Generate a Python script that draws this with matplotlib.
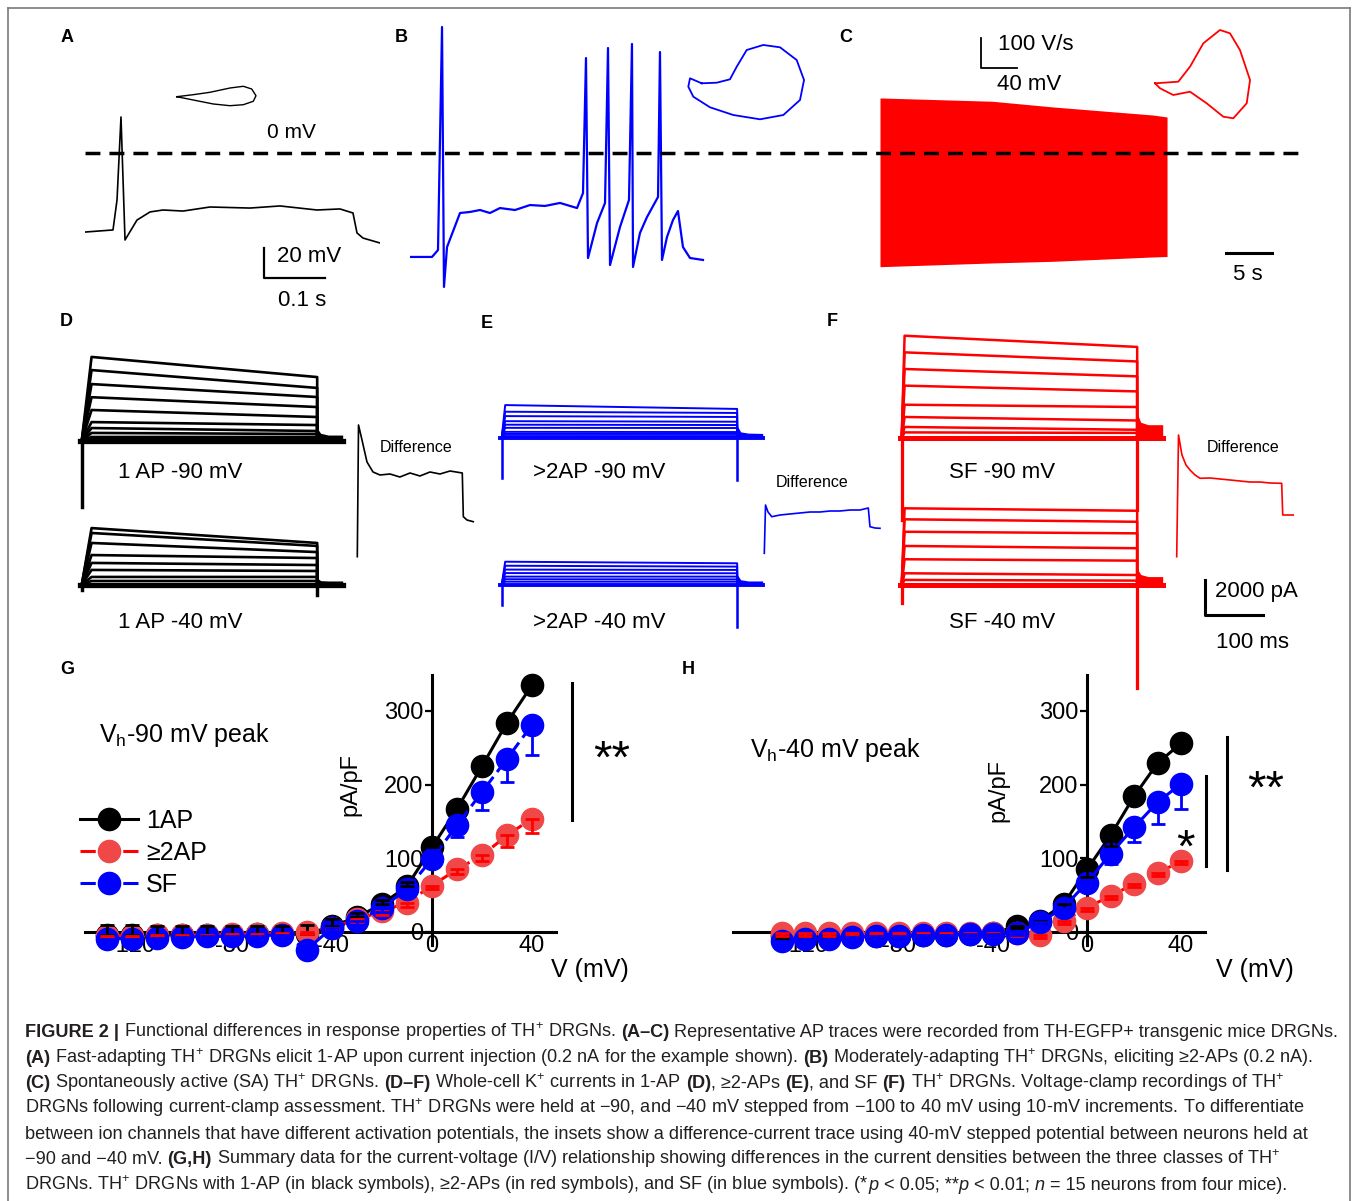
import matplotlib
matplotlib.use("Agg")
import matplotlib.pyplot as plt
from matplotlib.lines import Line2D

plt.rcParams['font.family'] = ['Liberation Sans', 'DejaVu Sans']
plt.rcParams['mathtext.fontset'] = 'custom'
plt.rcParams['mathtext.rm'] = 'Liberation Sans'
plt.rcParams['mathtext.it'] = 'Liberation Sans:italic'
plt.rcParams['mathtext.bf'] = 'Liberation Sans:bold'
plt.rcParams['axes.unicode_minus'] = False

# ======================= DATA =======================
# Panel A current-clamp trace (time ms, membrane potential mV)
A_T = [0, 45.9, 52.5, 59.0, 65.6, 85.2, 106.6, 127.9, 160.7, 204.9, 270.5, 319.7, 380.3, 418.0, 439.3, 445.9, 455.7, 483.6]
A_V = [-52.7, -51.3, -31.3, 24.0, -58.0, -44.7, -39.3, -38.0, -38.7, -36.0, -36.7, -35.3, -38.0, -37.3, -40.0, -53.3, -56.7, -60.0]
# Panel B trace
B_T = [0, 36.1, 45.9, 52.5, 55.7, 60.7, 82.0, 98.4, 114.8, 131.1, 147.5, 172.1, 196.7, 221.3, 245.9, 273.8,
       283.6, 288.5, 291.8, 306.6, 319.7, 324.6, 327.9, 344.3, 359.0, 363.9, 365.6, 377.0, 388.5, 406.6,
       409.8, 413.1, 421.3, 431.1, 439.3, 447.5, 459.0, 480.3]
B_V = [-69.3, -69.3, -64.7, 84.0, -89.3, -62.7, -40.0, -39.3, -38.0, -40.0, -36.7, -38.0, -34.7, -35.3, -33.3, -36.7,
       -26.7, 63.3, -70.0, -46.7, -33.3, 70.0, -74.7, -49.3, -31.3, 72.7, -76.0, -53.3, -42.7, -29.3,
       67.3, -71.3, -56.0, -44.7, -38.7, -62.7, -70.0, -71.3]
# Panel C spontaneous firing envelope (time s, mV)
C_T = [0, 12.2, 18.8, 29.7, 31.2]
C_TOP = [36.7, 34.5, 30.7, 25.3, 24.0]
C_BOT = [-75.8, -73.3, -72.2, -69.3, -69.0]
# Phase plots (mV, V/s)
PA_MV = [-55, -36.6, -18, 4.2, 19, 28.3, 33.1, 30.1, 19, 4.2, -14.3, -32.8, -47.7, -55]
PA_VS = [0, 6.7, 14.7, 29, 34.7, 25.7, 3.3, -15.3, -26.7, -30, -24.3, -13.3, -4.3, 0]
PB_MV = [-40.1, -53.1, -55, -49.4, -30.9, -5, 24.7, 50.6, 69.1, 73.6, 65.4, 46.9, 28.3, 9.9, -1.2, -8.7, -23.4, -40.1]
PB_VS = [-1, 15.7, -12.3, -45.7, -81, -106.7, -121, -106.7, -56.7, 10, 76.7, 119, 126.7, 110, 54.3, 12.3, 1, -1]
PC_MV = [-55, -29.1, -16.1, -1.3, 17.2, 28.3, 39.4, 50.6, 46.9, 32, 20.9, 2.4, -16.1, -34.7, -49.4, -55]
PC_VS = [2.3, 7.7, 57.7, 135.7, 180, 169, 113.3, 13.3, -64.3, -114.3, -109, -64.3, -25.7, -36.7, -14.3, 2.3]

# Panels D-F: K+ current families (pA), one value per voltage step
D90_PEAK = [4800, 4050, 3250, 2500, 1770, 1080, 740, 460, 230, 110]
D90_END = [3650, 3030, 2510, 1940, 1370, 910, 570, 400, 230, 110]
D40_PEAK = [3250, 2970, 2400, 1710, 1260, 860, 460, 230]
D40_END = [2400, 2230, 1880, 1540, 1140, 800, 460, 230]
E90_PEAK = [1880, 1500, 1250, 960, 760, 580, 350, 230, 110]
E90_END = [1660, 1430, 1200, 930, 740, 570, 340, 230, 110]
E40_PEAK = [1330, 1100, 880, 680, 480, 330, 190]
E40_END = [1240, 1050, 860, 670, 480, 320, 190]
F90_PEAK = [5840, 4890, 3940, 2990, 1900, 1200, 630, 320]
F90_END = [5200, 4370, 3520, 2660, 1770, 1000, 470, 290]
F40_PEAK = [4380, 3750, 3040, 2230, 1470, 670, 290]
F40_END = [4240, 3610, 2950, 2100, 1390, 570, 250]
# capacitive transients (on, off) in pA
D90_CAP = [-3770, 0]
D40_CAP = [-290, -570]
E90_CAP = [-2280, -2400]
E40_CAP = [-1140, -2400]
F90_CAP = [-4680, -4110]
F40_CAP = [-1030, -5880]
# tail currents after the step
TAIL_T = [406, 412, 425, 450]
D90_TAIL = [730, 440, 340, 340]
D40_TAIL = [400, 250, 230, 230]
E90_TAIL = [700, 350, 280, 260]
E40_TAIL = [600, 300, 230, 230]
F90_TAIL = [1430, 900, 760, 760]
F40_TAIL = [950, 600, 480, 480]
# Difference traces (ms, pA)
DD_T = [0, 2.1, 8.1, 16.7, 27.1, 39.1, 56.3, 73.4, 90.9, 108, 125.3, 142.6, 159.8, 181, 182.8, 189.1, 200]
DD_I = [-1999, 5522, 4665, 3409, 2838, 2667, 2724, 2552, 2781, 2610, 2838, 2724, 2895, 2781, 286, 97, 0]
ED_T = [0, 2.1, 6.4, 12.8, 27.1, 44.3, 61.6, 78.8, 96.1, 113.3, 130.5, 147.8, 165, 179.3, 182.2, 190.9, 199.5]
ED_I = [-1428, 1330, 931, 662, 759, 817, 874, 931, 931, 988, 988, 1045, 1045, 1159, 91, 17, 0]
FD_T = [0, 3.1, 9.1, 16, 22.9, 31.6, 40.2, 57.4, 74.7, 91.9, 109.1, 126.4, 143.6, 160.9, 181, 182.8, 201]
FD_I = [-2381, 4568, 3426, 2855, 2570, 2284, 2096, 2113, 2056, 1999, 1941, 1884, 1884, 1827, 1810, 0, 0]

# Panels G/H: I-V relationship (mV, pA/pF)
V_STEPS = [-130, -120, -110, -100, -90, -80, -70, -60, -50, -40, -30, -20, -10, 0, 10, 20, 30, 40]
G_1AP = [-4, -4, -4, -4, -4, -4, -3, -3, -3, 8, 20, 38, 62, 115, 167, 225, 284, 335]
G_1AP_ERR = [13, 13, 12, 12, 12, 12, 11, 11, 13, 10, 6, 6, 6, 6, 6, 6, 6, 6]
G_2AP = [-5, -5, -4, -4, -4, -3, -3, -2, 0, 6, 17, 28, 40, 63, 85, 104, 131, 154]
G_2AP_ERR = [2, 2, 2, 2, 2, 2, 2, 2, 3, 3, 4, 5, 6, 5, 6, 8, 16, 19]
G_SF = [-9, -9, -8, -7, -6, -6, -5, -4, -24, 6, 15, 33, 58, 99, 145, 190, 235, 281]
G_SF_ERR = [2, 2, 2, 2, 2, 2, 2, 2, 3, 4, 5, 6, 6, 6, 16, 25, 31, 41]
H_1AP = [-6, -6, -6, -5, -5, -5, -4, -4, -3, -2, 8, 15, 38, 85, 131, 184, 229, 256]
H_1AP_ERR = [3, 3, 3, 3, 3, 3, 3, 3, 3, 3, 3, 4, 5, 11, 14, 5, 5, 5]
H_2AP = [-2, -2, -2, -2, -2, -2, -2, -2, -2, -2, -2, -4, 15, 33, 49, 65, 80, 96]
H_2AP_ERR = [4, 4, 4, 4, 4, 4, 4, 4, 4, 4, 4, 4, 4, 4, 4, 4, 4, 4]
H_SF = [-12, -10, -9, -7, -6, -5, -4, -4, -3, -3, -1, 13, 33, 67, 106, 142, 176, 201]
H_SF_ERR = [3, 3, 3, 3, 3, 3, 3, 3, 3, 3, 3, 4, 5, 6, 14, 20, 29, 34]
NO_ERR = [0] * 18
SERIES_LABELS = ['1AP', '\u22652AP', 'SF']
X_TICKS = [-120, -80, -40, 0, 40]
Y_TICKS = [0, 100, 200, 300]

# ======================= LAYOUT =======================
W, H = 1357, 1201
fig = plt.figure(figsize=(W / 100, H / 100), dpi=100)

BLACK = '#000000'
BLUE = '#0000FF'
RED = '#FF0000'
RED_M = '#F04848'


def add_ax(x0, y0, x1, y1, xlim, ylim, z=2):
    ax = fig.add_axes([x0 / W, 1 - y1 / H, (x1 - x0) / W, (y1 - y0) / H], zorder=z)
    ax.set_xlim(*xlim)
    ax.set_ylim(*ylim)
    ax.set_axis_off()
    return ax


def ftext(x, y, s, **kw):
    kw.setdefault('va', 'center')
    kw.setdefault('ha', 'left')
    return fig.text(x / W, 1 - y / H, s, **kw)


# ---- top row (A-C) ----
ZERO_PX, PX_PER_MV, PX_PER_MS, PX_PER_S = 153, 1.5, 0.61, 9.2
ROW_Y0, ROW_Y1 = 20, 300
YL_TOP = ((ZERO_PX - ROW_Y1) / PX_PER_MV, (ZERO_PX - ROW_Y0) / PX_PER_MV)

axA = add_ax(85, ROW_Y0, 380, ROW_Y1, (0, (380 - 85) / PX_PER_MS), YL_TOP)
axA.plot(A_T, A_V, color=BLACK, lw=1.2)
sbt, sbv = 293.4, -83.3
axA.plot([sbt, sbt, sbt + 100], [sbv + 20, sbv, sbv], color=BLACK, lw=1.6, clip_on=False)

axB = add_ax(410, ROW_Y0, 705, ROW_Y1, (0, (705 - 410) / PX_PER_MS), YL_TOP)
axB.plot(B_T, B_V, color=BLUE, lw=1.6)

axC = add_ax(880, ROW_Y0, 1300, ROW_Y1, (0, (1300 - 880) / PX_PER_S), YL_TOP)
axC.fill_between(C_T, C_BOT, C_TOP, color=RED, lw=0)
axC.plot([37.6, 37.6 + 5], [-66.7, -66.7], color=BLACK, lw=2.2)

axRow = add_ax(85, ROW_Y0, 1300, ROW_Y1, (0, 1), YL_TOP, z=5)
axRow.axhline(0, color=BLACK, lw=2.5, ls=(0, (4.3, 2.6)))

PH_MV_PX, PH_VS_PX, PH_REF = 0.9, 0.3, -55


def phase_ax(x0, y0, x1, y1, xref, yref):
    return add_ax(x0, y0, x1, y1,
                  (PH_REF + (x0 - xref) / PH_MV_PX, PH_REF + (x1 - xref) / PH_MV_PX),
                  ((yref - y1) / PH_VS_PX, (yref - y0) / PH_VS_PX), z=3)


pa = phase_ax(170, 79, 260, 114, 176.7, 96.7)
pa.plot(PA_MV, PA_VS, color=BLACK, lw=1.0)
pb = phase_ax(680, 40, 810, 125, 688.3, 83)
pb.plot(PB_MV, PB_VS, color=BLUE, lw=1.3)
pc = phase_ax(975, 20, 1260, 125, 1155, 84)
pc.plot(PC_MV, PC_VS, color=RED, lw=1.3)
pc.plot([-248.3, -248.3, -248.3 + 40], [53.3 + 100, 53.3, 53.3], color=BLACK, lw=1.3)

ftext(291, 133, '0 mV', fontsize=15, ha='center')
ftext(277, 256, '20 mV', fontsize=16)
ftext(302, 300, '0.1 s', fontsize=16, ha='center')
ftext(998, 45, '100 V/s', fontsize=16)
ftext(997, 85, '40 mV', fontsize=16)
ftext(1248, 275, '5 s', fontsize=16, ha='center')

# ---- D-F current families ----
PX_PER_MS2, PA_PER_PX = 0.58, 57.1
STEP_END, PRE, TAIL_END = 406, -3, 450


def fam_ax(x0, y0, x1, y1, t0px, basepx):
    return add_ax(x0, y0, x1, y1,
                  ((x0 - t0px) / PX_PER_MS2, (x1 - t0px) / PX_PER_MS2),
                  ((basepx - y1) * PA_PER_PX, (basepx - y0) * PA_PER_PX))


def draw_family(ax, peaks, ends, cap, tail, tpk, color, lw):
    for p, e in zip(peaks, ends):
        ax.plot([0, tpk, STEP_END, STEP_END], [0, p, e, 0], color=color, lw=lw)
    ax.plot([PRE, TAIL_END], [0, 0], color=color, lw=lw * 2.0)
    ax.plot([0, 0], [0, cap[0]], color=color, lw=lw * 1.3)
    ax.plot([STEP_END, STEP_END], [0, cap[1]], color=color, lw=lw * 1.3)
    ax.fill_between(TAIL_T, 0, tail, color=color, lw=0)


axD1 = fam_ax(70, 340, 350, 515, 81.7, 441)
draw_family(axD1, D90_PEAK, D90_END, D90_CAP, D90_TAIL, 17, BLACK, 1.9)
axD2 = fam_ax(70, 515, 350, 600, 81.7, 585)
draw_family(axD2, D40_PEAK, D40_END, D40_CAP, D40_TAIL, 17, BLACK, 1.9)
axE1 = fam_ax(490, 395, 770, 490, 501.7, 438)
draw_family(axE1, E90_PEAK, E90_END, E90_CAP, E90_TAIL, 6, BLUE, 1.4)
axE2 = fam_ax(490, 540, 770, 635, 501.7, 585)
draw_family(axE2, E40_PEAK, E40_END, E40_CAP, E40_TAIL, 6, BLUE, 1.4)
axF1 = fam_ax(890, 325, 1170, 530, 901.7, 438)
draw_family(axF1, F90_PEAK, F90_END, F90_CAP, F90_TAIL, 5, RED, 1.8)
axF2 = fam_ax(890, 495, 1170, 695, 901.7, 585)
draw_family(axF2, F40_PEAK, F40_END, F40_CAP, F40_TAIL, 5, RED, 1.8)

dd = fam_ax(350, 415, 480, 565, 357.3, 521.7)
dd.plot(DD_T, DD_I, color=BLACK, lw=1.2)
ed = fam_ax(755, 495, 885, 560, 764.3, 528.3)
ed.plot(ED_T, ED_I, color=BLUE, lw=1.2)
fd = fam_ax(1170, 425, 1300, 565, 1176.7, 515)
fd.plot(FD_T, FD_I, color=RED, lw=1.2)

sb = fam_ax(1195, 560, 1300, 625, 1205, 615)
sb.plot([0, 0, 100], [2000, 0, 0], color=BLACK, lw=2.2, clip_on=False)

ftext(118, 472, '1 AP -90 mV', fontsize=16)
ftext(118, 622, '1 AP -40 mV', fontsize=16)
ftext(380, 447, 'Difference', fontsize=11.5)
ftext(533, 472, '>2AP -90 mV', fontsize=16)
ftext(533, 622, '>2AP -40 mV', fontsize=16)
ftext(776, 482, 'Difference', fontsize=11.5)
ftext(949, 472, 'SF -90 mV', fontsize=16)
ftext(949, 622, 'SF -40 mV', fontsize=16)
ftext(1207, 447, 'Difference', fontsize=11.5)
ftext(1215, 591, '2000 pA', fontsize=16)
ftext(1216, 643, '100 ms', fontsize=16)

# ---- G/H I-V plots ----
IV_Y0, IV_Y1, IV_ZERO, IV_PX = 675, 945, 932, 0.737


def iv_ax(x0, x1, yaxis_px, px_per_mv):
    ax = fig.add_axes([x0 / W, 1 - IV_Y1 / H, (x1 - x0) / W, (IV_Y1 - IV_Y0) / H], zorder=4)
    ax.set_xlim((x0 - yaxis_px) / px_per_mv, (x1 - yaxis_px) / px_per_mv)
    ax.set_ylim((IV_ZERO - IV_Y1) / IV_PX, (IV_ZERO - IV_Y0) / IV_PX)
    ax.patch.set_alpha(0)
    ax.spines['top'].set_visible(False)
    ax.spines['right'].set_visible(False)
    ax.spines['left'].set_position(('data', 0))
    ax.spines['bottom'].set_position(('data', 0))
    ax.spines['left'].set_linewidth(2.2)
    ax.spines['bottom'].set_linewidth(2.2)
    ax.set_xticks(X_TICKS)
    ax.set_yticks(Y_TICKS)
    ax.tick_params(axis='x', length=0, pad=2, labelsize=17)
    ax.tick_params(axis='y', length=5, width=1.6, direction='out', pad=1, labelsize=17)
    return ax


def series(ax, y, mcolor, lcolor, ls):
    ax.plot(V_STEPS, y, color=lcolor, ls=ls, lw=2.2, marker='o', ms=16,
            mfc=mcolor, mec=mcolor, zorder=3, clip_on=False)


def errs(ax, y, lo, hi, color):
    ax.errorbar(V_STEPS, y, yerr=[lo, hi], fmt='none', ecolor=color, elinewidth=2.0,
                capsize=5, capthick=2.0, zorder=5, clip_on=False)


axG = iv_ax(85, 556, 432, 2.5)
series(axG, G_1AP, BLACK, BLACK, '-')
series(axG, G_2AP, RED_M, RED, (0, (5, 2)))
series(axG, G_SF, BLUE, BLUE, (0, (5, 2)))
errs(axG, G_1AP, NO_ERR, G_1AP_ERR, BLACK)
errs(axG, G_2AP, G_2AP_ERR, NO_ERR, RED)
errs(axG, G_SF, G_SF_ERR, NO_ERR, BLUE)
axG.plot([56, 56], [152, 338], color=BLACK, lw=2.2, clip_on=False)
axG.text(72, 233, '**', fontsize=34, ha='center', va='center', clip_on=False)

axH = iv_ax(733, 1205, 1087, 2.35)
series(axH, H_1AP, BLACK, BLACK, '-')
series(axH, H_2AP, RED_M, RED, (0, (3, 2)))
series(axH, H_SF, BLUE, BLUE, '-')
errs(axH, H_1AP, H_1AP_ERR, NO_ERR, BLACK)
errs(axH, H_2AP, H_2AP_ERR, NO_ERR, RED)
errs(axH, H_SF, H_SF_ERR, NO_ERR, BLUE)
axH.plot([59.6, 59.6], [84.1, 264.6], color=BLACK, lw=2.2, clip_on=False)
axH.plot([50.6, 50.6], [89.6, 211.7], color=BLACK, lw=2.2, clip_on=False)
axH.text(76.2, 192, '**', fontsize=34, ha='center', va='center', clip_on=False)
axH.text(42.1, 111, '*', fontsize=34, ha='center', va='center', clip_on=False)

handles = [Line2D([], [], color=BLACK, ls='-', lw=2.2, marker='o', ms=16, mfc=BLACK, mec=BLACK),
           Line2D([], [], color=RED, ls=(0, (5, 2)), lw=2.2, marker='o', ms=16, mfc=RED_M, mec=RED_M),
           Line2D([], [], color=BLUE, ls=(0, (5, 2)), lw=2.2, marker='o', ms=16, mfc=BLUE, mec=BLUE)]
axG.legend(handles, SERIES_LABELS, loc='upper left', bbox_to_anchor=(80 / W, 1 - 809 / H),
           bbox_transform=fig.transFigure, frameon=False, fontsize=18, handlelength=2.3,
           handletextpad=0.35, labelspacing=0.32, borderpad=0, borderaxespad=0, numpoints=1)

ftext(350, 785, 'pA/pF', fontsize=17, rotation=90, ha='center')
ftext(998, 790, 'pA/pF', fontsize=17, rotation=90, ha='center')
ftext(590, 970, 'V (mV)', fontsize=18, ha='center')
ftext(1255, 970, 'V (mV)', fontsize=18, ha='center')
ftext(99, 735, r'V$_\mathrm{h}$-90 mV peak', fontsize=18)
ftext(750, 750, r'V$_\mathrm{h}$-40 mV peak', fontsize=18)

# panel letters
for lx, ly, L in [(67, 38, 'A'), (401, 38, 'B'), (846, 38, 'C'), (66, 322, 'D'),
                  (487, 324, 'E'), (832, 321, 'F'), (67, 670, 'G'), (688, 670, 'H')]:
    ftext(lx, ly, L, fontsize=13, weight='bold', ha='center')

# border
BC = '#7a7a7a'
for xs, ys in [((8, 1350), (8, 8)), ((8, 8), (8, 1201)), ((1350, 1350), (8, 1201))]:
    fig.add_artist(Line2D([x / W for x in xs], [1 - y / H for y in ys], color=BC, lw=1.2,
                          transform=fig.transFigure))

# ---- caption ----
CAP_SIZE = 13.1
CAP_COLOR = '#231f20'
renderer = fig.canvas.get_renderer()


def twidth(s, weight='normal'):
    t = fig.text(0, 0, s, fontsize=CAP_SIZE, weight=weight)
    w = t.get_window_extent(renderer).width
    t.remove()
    return w


SPACE_W = twidth('x x') - twidth('xx')

CAPTION = [
    [('FIGURE 2 |', 'b'), (' Functional differences in response properties of TH$^{+}$ DRGNs. ', 'r'), ('(A\u2013C)', 'b'),
     (' Representative AP traces were recorded from TH-EGFP+ transgenic mice DRGNs.', 'r')],
    [('(A)', 'b'), (' Fast-adapting TH$^{+}$ DRGNs elicit 1-AP upon current injection (0.2 nA for the example shown). ', 'r'),
     ('(B)', 'b'), (' Moderately-adapting TH$^{+}$ DRGNs, eliciting \u22652-APs (0.2 nA).', 'r')],
    [('(C)', 'b'), (' Spontaneously active (SA) TH$^{+}$ DRGNs. ', 'r'), ('(D\u2013F)', 'b'),
     (' Whole-cell K$^{+}$ currents in 1-AP ', 'r'), ('(D)', 'b'), (', \u22652-APs ', 'r'), ('(E)', 'b'),
     (', and SF ', 'r'), ('(F)', 'b'), (' TH$^{+}$ DRGNs. Voltage-clamp recordings of TH$^{+}$', 'r')],
    [('DRGNs following current-clamp assessment. TH$^{+}$ DRGNs were held at \u221290, and \u221240 mV stepped from \u2212100 to 40 mV using 10-mV increments. To differentiate', 'r')],
    [('between ion channels that have different activation potentials, the insets show a difference-current trace using 40-mV stepped potential between neurons held at', 'r')],
    [('\u221290 and \u221240 mV. ', 'r'), ('(G,H)', 'b'),
     (' Summary data for the current-voltage (I/V) relationship showing differences in the current densities between the three classes of TH$^{+}$', 'r')],
    [('DRGNs. TH$^{+}$ DRGNs with 1-AP (in black symbols), \u22652-APs (in red symbols), and SF (in blue symbols). (*', 'r'),
     ('p', 'i'), (' < 0.05; **', 'r'), ('p', 'i'), (' < 0.01; ', 'r'), ('n', 'i'), (' = 15 neurons from four mice).', 'r')],
]
CAP_BASELINES = [1037, 1063, 1088, 1113, 1139, 1164, 1190]

for yb, segs in zip(CAP_BASELINES, CAPTION):
    x = 25.0
    for s, st in segs:
        lead = len(s) - len(s.lstrip(' '))
        trail = len(s) - len(s.rstrip(' '))
        x += lead * SPACE_W
        core = s.strip(' ')
        t = fig.text(x / W, 1 - yb / H, core, fontsize=CAP_SIZE, color=CAP_COLOR,
                     weight='bold' if st == 'b' else 'normal',
                     style='italic' if st == 'i' else 'normal', va='baseline', ha='left')
        x += t.get_window_extent(renderer).width + trail * SPACE_W

fig.savefig('out.png', dpi=100)
